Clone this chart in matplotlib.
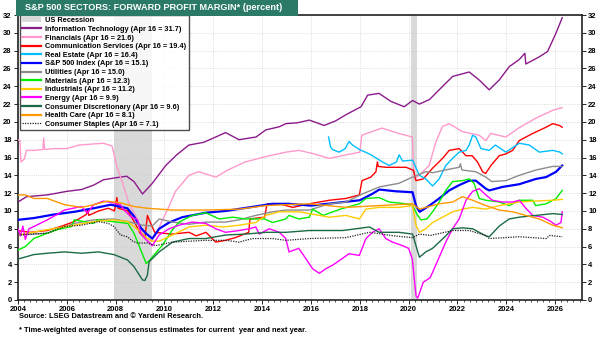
import matplotlib
matplotlib.use("Agg")
import matplotlib.pyplot as plt
from matplotlib.patches import Patch, Rectangle
from matplotlib.lines import Line2D
from matplotlib.ticker import MultipleLocator

plt.rcParams["font.family"] = ["Liberation Sans", "DejaVu Sans"]
plt.rcParams["font.weight"] = "bold"

# (decimal year, forward profit margin %)
IT = [(2004.0, 11.0), (2004.35, 11.6), (2005.2, 11.8), (2006.0, 12.2), (2006.6, 12.4), (2007.1, 12.9),
      (2007.5, 13.5), (2007.95, 13.7), (2008.45, 13.9), (2008.75, 13.3), (2009.1, 11.9), (2009.5, 13.1),
      (2010.05, 15.1), (2010.5, 16.3), (2011.0, 17.4), (2011.6, 17.7), (2012.1, 18.3), (2012.5, 18.8),
      (2013.05, 18.0), (2013.75, 18.3), (2014.15, 19.1), (2014.7, 19.45), (2014.97, 19.8), (2015.45, 19.9),
      (2015.93, 20.2), (2016.54, 19.6), (2017.0, 20.1), (2017.43, 20.8), (2018.05, 21.7), (2018.32, 23.0),
      (2018.79, 23.2), (2019.27, 22.3), (2019.82, 21.7), (2020.16, 22.4), (2020.44, 22.0), (2020.85, 22.5),
      (2021.25, 23.6), (2021.8, 25.1), (2022.48, 25.6), (2022.89, 24.7), (2023.3, 23.6), (2023.71, 24.7),
      (2024.12, 26.2), (2024.53, 27.0), (2024.76, 27.7), (2024.8, 26.5), (2025.35, 27.3), (2025.69, 27.9),
      (2026.04, 30.0), (2026.29, 31.7)]
FINANCIALS = [(2004.0, 18.0), (2004.08, 17.9), (2004.12, 15.5), (2004.25, 15.8), (2004.35, 16.8), (2004.7, 16.8),
              (2005.02, 16.9), (2005.05, 18.2), (2005.09, 16.9), (2005.5, 17.0), (2006.0, 17.0), (2006.5, 17.4),
              (2007.0, 17.5), (2007.5, 17.6), (2007.85, 17.3), (2008.05, 15.0), (2008.3, 13.0), (2008.55, 10.8),
              (2008.85, 9.3), (2009.0, 8.2), (2009.2, 7.0), (2009.45, 6.6), (2009.7, 7.5), (2009.85, 8.6),
              (2010.2, 10.6), (2010.45, 12.2), (2011.0, 14.0), (2011.4, 14.4), (2012.1, 13.8), (2012.6, 14.6),
              (2013.3, 15.5), (2014.15, 16.1), (2014.97, 16.6), (2015.5, 16.8), (2016.07, 16.45), (2016.75, 15.9),
              (2017.45, 16.3), (2018.0, 16.6), (2018.08, 18.5), (2018.9, 19.3), (2019.6, 18.7), (2020.15, 18.3),
              (2020.22, 13.6), (2020.43, 14.0), (2020.84, 15.1), (2021.12, 17.8), (2021.39, 19.5), (2021.66, 19.8),
              (2022.2, 18.9), (2022.89, 18.5), (2023.16, 17.9), (2023.36, 18.7), (2023.98, 18.3), (2024.5, 19.3),
              (2025.2, 20.4), (2025.9, 21.3), (2026.29, 21.6)]
COMM = [(2004.0, 7.8), (2004.5, 7.6), (2005.2, 7.8), (2005.8, 8.3), (2006.3, 8.8), (2006.8, 9.6), (2006.85, 10.2),
        (2006.9, 9.5), (2007.3, 10.0), (2007.7, 10.3), (2007.95, 10.0), (2008.05, 11.5), (2008.1, 10.3),
        (2008.5, 10.0), (2008.8, 8.6), (2009.0, 7.5), (2009.2, 7.0), (2009.3, 9.5), (2009.45, 8.5), (2009.6, 7.6),
        (2010.3, 7.4), (2011.0, 7.6), (2011.3, 7.2), (2011.7, 7.6), (2012.1, 6.5), (2012.5, 6.7), (2012.9, 7.0),
        (2013.45, 7.6), (2013.5, 9.1), (2014.1, 9.3), (2014.2, 10.8), (2014.7, 10.8), (2015.25, 10.4),
        (2015.93, 10.8), (2016.75, 11.2), (2017.43, 11.4), (2017.98, 11.8), (2018.09, 13.4), (2018.45, 13.8),
        (2018.66, 14.4), (2018.72, 15.5), (2018.75, 15.0), (2019.07, 14.9), (2019.9, 14.9), (2020.2, 14.55),
        (2020.3, 13.4), (2020.6, 13.6), (2020.98, 14.8), (2021.39, 15.9), (2021.66, 16.8), (2022.07, 17.0),
        (2022.35, 16.2), (2022.6, 16.2), (2022.82, 15.5), (2023.03, 14.4), (2023.15, 14.2), (2023.37, 15.1),
        (2023.71, 16.2), (2023.98, 16.4), (2024.26, 16.8), (2024.53, 17.9), (2025.08, 18.7), (2025.63, 19.4),
        (2025.9, 19.8), (2026.17, 19.6), (2026.29, 19.4)]
REAL_ESTATE = [(2016.72, 18.3), (2016.8, 17.2), (2016.88, 16.9), (2017.15, 16.6), (2017.4, 17.0), (2017.56, 17.8),
               (2017.7, 17.4), (2017.98, 16.9), (2018.39, 16.4), (2018.93, 15.5), (2019.2, 15.1), (2019.5, 15.5),
               (2019.61, 16.3), (2019.75, 15.6), (2020.16, 15.7), (2020.44, 14.0), (2020.7, 13.6), (2020.98, 12.8),
               (2021.25, 13.6), (2021.52, 15.1), (2021.8, 15.9), (2022.07, 16.6), (2022.35, 16.8), (2022.48, 17.4),
               (2022.62, 18.5), (2022.75, 18.3), (2022.96, 17.0), (2023.3, 16.8), (2023.55, 17.4), (2023.98, 16.6),
               (2024.53, 17.6), (2024.94, 17.4), (2025.35, 16.6), (2025.9, 16.8), (2026.2, 16.6), (2026.29, 16.4)]
SP500 = [(2004.0, 9.0), (2004.65, 9.2), (2005.47, 9.6), (2006.3, 9.9), (2007.1, 10.3), (2007.8, 10.7),
         (2008.48, 10.3), (2008.75, 9.4), (2009.03, 8.1), (2009.23, 7.5), (2009.5, 6.9), (2009.78, 8.0),
         (2010.19, 8.7), (2010.73, 9.3), (2011.69, 9.8), (2012.51, 10.0), (2013.47, 10.4), (2014.42, 10.8),
         (2015.1, 10.8), (2016.0, 10.6), (2017.0, 10.9), (2018.0, 11.2), (2018.5, 11.9), (2018.8, 12.4),
         (2019.5, 12.2), (2020.16, 12.1), (2020.3, 10.6), (2020.45, 9.9), (2020.85, 10.6), (2021.25, 11.4),
         (2021.66, 12.3), (2022.07, 12.9), (2022.48, 13.4), (2022.75, 13.4), (2023.16, 12.5), (2023.3, 12.3),
         (2023.85, 12.7), (2024.53, 13.0), (2025.22, 13.6), (2025.63, 13.8), (2026.04, 14.4), (2026.29, 15.1)]
UTILITIES = [(2004.0, 7.3), (2005.2, 7.5), (2006.3, 8.6), (2007.1, 9.0), (2007.9, 9.1), (2008.5, 8.8),
             (2009.1, 8.4), (2009.5, 8.3), (2009.78, 9.1), (2010.33, 8.75), (2011.0, 8.5), (2011.7, 8.75),
             (2012.5, 8.75), (2013.06, 9.0), (2013.74, 9.5), (2014.42, 9.9), (2014.97, 10.1), (2015.93, 10.1),
             (2016.75, 10.8), (2017.43, 11.0), (2018.1, 11.9), (2018.8, 12.7), (2019.6, 13.1), (2020.16, 13.8),
             (2020.7, 14.4), (2021.0, 14.3), (2021.5, 14.6), (2022.07, 14.9), (2022.12, 15.3), (2022.18, 14.6),
             (2022.75, 14.4), (2023.16, 13.8), (2023.4, 13.3), (2023.98, 13.4), (2024.53, 14.0), (2025.22, 14.6),
             (2025.9, 15.0), (2026.29, 15.0)]
MATERIALS = [(2004.0, 5.6), (2004.3, 6.0), (2004.65, 6.9), (2005.2, 7.5), (2005.6, 7.9), (2006.2, 8.25),
             (2006.3, 9.0), (2007.1, 8.6), (2007.25, 9.0), (2008.5, 8.6), (2008.75, 7.5), (2009.03, 5.6),
             (2009.25, 4.1), (2009.37, 4.4), (2009.55, 5.0), (2009.9, 6.1), (2010.33, 7.9), (2010.6, 8.75),
             (2011.14, 9.5), (2011.69, 9.8), (2012.24, 9.1), (2012.8, 9.3), (2013.3, 9.1), (2014.1, 9.1),
             (2014.42, 8.7), (2014.97, 9.1), (2015.1, 9.5), (2015.5, 9.1), (2015.93, 9.3), (2016.07, 10.2),
             (2016.5, 9.5), (2017.2, 10.2), (2017.98, 10.8), (2018.25, 11.4), (2018.79, 11.5), (2019.2, 11.0),
             (2019.9, 10.8), (2020.16, 10.6), (2020.37, 9.5), (2020.5, 9.0), (2020.75, 9.1), (2020.98, 9.9),
             (2021.25, 11.0), (2021.52, 12.3), (2021.8, 13.3), (2022.2, 13.4), (2022.48, 13.6), (2022.68, 13.1),
             (2022.89, 11.4), (2023.16, 11.2), (2023.71, 11.0), (2024.12, 10.6), (2024.53, 11.2), (2025.08, 11.2),
             (2025.2, 10.6), (2025.63, 10.8), (2026.04, 11.4), (2026.29, 12.3)]
INDUSTRIALS = [(2004.0, 7.3), (2005.2, 7.9), (2006.3, 8.4), (2007.1, 8.8), (2007.9, 9.0), (2008.5, 8.8),
               (2008.75, 8.25), (2009.0, 7.7), (2009.25, 7.0), (2009.5, 6.6), (2009.78, 6.6), (2010.33, 7.3),
               (2011.0, 8.2), (2011.69, 8.4), (2012.4, 8.2), (2013.06, 8.4), (2013.74, 8.7), (2014.15, 9.5),
               (2014.7, 9.9), (2015.5, 9.9), (2015.93, 9.7), (2016.75, 9.3), (2017.43, 9.5), (2017.98, 9.1),
               (2018.25, 10.2), (2018.79, 10.4), (2019.6, 10.4), (2020.16, 10.6), (2020.3, 8.4), (2020.44, 7.6),
               (2020.7, 8.0), (2020.98, 8.7), (2021.39, 9.3), (2021.8, 9.9), (2022.2, 10.2), (2022.62, 10.4),
               (2023.16, 10.2), (2023.71, 10.6), (2024.12, 10.8), (2024.53, 11.0), (2025.08, 11.1), (2025.9, 11.2),
               (2026.29, 11.3)]
ENERGY = [(2004.0, 8.0), (2004.1, 7.2), (2004.2, 8.3), (2004.3, 6.8), (2004.45, 8.0), (2004.65, 8.25),
          (2005.2, 9.0), (2005.6, 9.6), (2005.9, 10.1), (2006.6, 10.5), (2006.84, 9.75), (2007.1, 10.7),
          (2007.5, 11.1), (2007.93, 10.9), (2008.2, 10.7), (2008.35, 10.1), (2008.6, 9.4), (2008.9, 9.0),
          (2009.03, 7.5), (2009.2, 6.9), (2009.5, 6.1), (2009.78, 7.3), (2010.19, 8.0), (2010.6, 8.4),
          (2011.14, 8.75), (2011.69, 8.6), (2012.1, 8.0), (2012.5, 7.6), (2013.06, 7.8), (2013.47, 8.0),
          (2013.74, 8.2), (2013.88, 7.4), (2014.29, 8.0), (2014.7, 7.6), (2014.97, 6.9), (2015.1, 5.4),
          (2015.5, 5.8), (2015.8, 4.6), (2016.07, 3.5), (2016.34, 3.0), (2016.6, 3.5), (2016.88, 3.9),
          (2017.15, 4.4), (2017.56, 5.2), (2017.98, 5.0), (2018.25, 6.9), (2018.52, 7.6), (2018.79, 8.0),
          (2019.06, 6.9), (2019.34, 6.5), (2019.75, 6.1), (2020.0, 5.8), (2020.15, 4.6), (2020.3, 0.5),
          (2020.37, 0.2), (2020.6, 2.0), (2020.88, 2.5), (2020.98, 3.1), (2021.25, 4.8), (2021.52, 6.5),
          (2021.8, 8.0), (2022.07, 9.1), (2022.35, 11.2), (2022.62, 12.2), (2022.89, 12.5), (2023.16, 11.8),
          (2023.43, 11.2), (2023.84, 11.0), (2024.26, 11.0), (2024.53, 11.2), (2024.8, 10.3), (2025.08, 9.5),
          (2025.49, 9.3), (2025.77, 8.9), (2026.04, 8.4), (2026.24, 8.7), (2026.29, 9.9)]
CONS_DISC = [(2004.0, 4.6), (2004.65, 5.1), (2005.2, 5.25), (2005.9, 5.4), (2006.6, 5.25), (2007.3, 5.4),
             (2007.93, 5.1), (2008.48, 4.5), (2008.75, 3.75), (2009.1, 2.25), (2009.2, 2.2), (2009.3, 2.8),
             (2009.37, 4.3), (2009.78, 5.4), (2010.33, 6.5), (2011.0, 6.9), (2011.69, 6.9), (2012.51, 7.3),
             (2013.33, 7.4), (2014.15, 7.6), (2014.97, 7.6), (2015.93, 7.8), (2017.3, 7.8), (2018.39, 8.2),
             (2018.79, 7.6), (2019.6, 7.6), (2020.16, 7.4), (2020.3, 6.1), (2020.44, 4.8), (2020.7, 5.4),
             (2020.98, 5.8), (2021.25, 6.5), (2021.52, 7.2), (2021.8, 8.0), (2022.2, 8.1), (2022.62, 8.0),
             (2023.16, 7.2), (2023.3, 7.1), (2023.71, 8.3), (2024.12, 9.1), (2024.53, 9.3), (2025.22, 9.5),
             (2025.9, 9.7), (2026.29, 9.6)]
HEALTH = [(2004.0, 11.8), (2004.3, 11.8), (2004.65, 11.4), (2005.2, 11.4), (2005.9, 10.7), (2006.6, 10.4),
          (2007.1, 10.7), (2007.65, 11.1), (2008.2, 10.9), (2008.75, 10.5), (2009.3, 10.3), (2010.33, 10.1),
          (2011.69, 10.1), (2013.06, 10.2), (2014.15, 10.6), (2014.97, 10.7), (2015.93, 10.8), (2017.43, 10.4),
          (2018.79, 10.6), (2020.16, 10.8), (2020.44, 10.2), (2020.85, 10.5), (2021.25, 10.8), (2021.8, 11.0),
          (2022.2, 11.6), (2022.62, 11.2), (2023.16, 10.6), (2023.71, 10.1), (2024.26, 9.9), (2024.8, 9.5),
          (2025.35, 9.1), (2025.9, 8.4), (2026.17, 8.2), (2026.29, 8.1)]
STAPLES = [(2004.0, 7.3), (2005.2, 7.5), (2005.9, 8.25), (2006.6, 8.4), (2007.3, 8.8), (2007.7, 8.6),
           (2007.93, 8.25), (2008.2, 7.3), (2008.48, 7.1), (2008.7, 6.6), (2008.9, 6.4), (2009.3, 6.4),
           (2009.64, 6.1), (2010.33, 6.5), (2011.69, 6.7), (2012.51, 6.7), (2013.06, 6.5), (2013.6, 6.9),
           (2014.42, 6.9), (2014.97, 6.7), (2015.93, 6.9), (2017.43, 7.0), (2018.39, 7.6), (2019.4, 7.2),
           (2020.16, 7.0), (2020.44, 7.4), (2020.9, 7.25), (2021.8, 7.8), (2022.48, 7.8), (2023.16, 7.25),
           (2023.3, 6.9), (2024.53, 7.1), (2025.63, 6.9), (2025.77, 7.25), (2026.29, 7.1)]

RECESSIONS = [(2007.92, 2009.5), (2020.08, 2020.33)]
X_TICKS = list(range(2004, 2027, 2))
Y_TICKS = list(range(0, 33, 2))

# label, data, colour, width, style
SERIES = [
    ("Information Technology (Apr 16 = 31.7)", IT, "#8b1a8b", 1.0, "-"),
    ("Financials (Apr 16 = 21.6)", FINANCIALS, "#ff99cc", 1.0, "-"),
    ("Communication Services (Apr 16 = 19.4)", COMM, "#ff0000", 1.0, "-"),
    ("Real Estate (Apr 16 = 16.4)", REAL_ESTATE, "#00bfff", 1.0, "-"),
    ("S&P 500 Index (Apr 16 = 15.1)", SP500, "#0000ff", 1.6, "-"),
    ("Utilities (Apr 16 = 15.0)", UTILITIES, "#8c8c8c", 1.0, "-"),
    ("Materials (Apr 16 = 12.3)", MATERIALS, "#00ee00", 1.0, "-"),
    ("Industrials (Apr 16 = 11.2)", INDUSTRIALS, "#ffcc00", 1.0, "-"),
    ("Energy (Apr 16 = 9.9)", ENERGY, "#ff00ff", 1.0, "-"),
    ("Consumer Discretionary (Apr 16 = 9.6)", CONS_DISC, "#1b6b45", 1.0, "-"),
    ("Health Care (Apr 16 = 8.1)", HEALTH, "#ff9900", 1.0, "-"),
    ("Consumer Staples (Apr 16 = 7.1)", STAPLES, "#222222", 0.9, (0, (1, 1))),
]

fig = plt.figure(figsize=(6.0, 3.38), dpi=100)
ax = fig.add_axes([18 / 600, 1 - 300 / 338, 564 / 600, 285 / 338])

for a, b in RECESSIONS:
    ax.axvspan(a, b, color="#d9d9d9", lw=0, zorder=0)

handles = [Patch(facecolor="#d9d9d9", edgecolor="none", label="US Recession")]
for label, data, color, lw, ls in SERIES:
    xs = [p[0] for p in data]
    ys = [p[1] for p in data]
    ax.plot(xs, ys, color=color, lw=lw, ls=ls, zorder=3)
    handles.append(Line2D([], [], color=color, lw=1.6 if ls == "-" else 0.9, ls=ls, label=label))

ax.set_xlim(2004.0, 2027.1)
ax.set_ylim(0, 32)
ax.set_xticks(X_TICKS)
ax.set_yticks(Y_TICKS)
ax.xaxis.set_minor_locator(MultipleLocator(0.25))
ax.grid(True, which="major", color="#d0d0d0", ls=":", lw=0.6, zorder=1)
ax.tick_params(axis="both", which="major", labelsize=5.5, length=3, width=0.6, pad=1.5)
ax.tick_params(axis="x", which="minor", length=1.5, width=0.5)
ax.tick_params(axis="y", right=True, labelright=True)
for s in ax.spines.values():
    s.set_linewidth(1.2)
    s.set_color("#222222")

leg = ax.legend(handles=handles, loc="upper left", bbox_to_anchor=(0.003, 1.0), borderaxespad=0,
                fontsize=5.3, frameon=True, fancybox=False, handlelength=2.6, handletextpad=0.6,
                labelspacing=0.2, borderpad=0.3)
leg.get_frame().set_edgecolor("#222222")
leg.get_frame().set_linewidth(1.0)
leg.set_zorder(5)

fig.patches.append(Rectangle((16 / 600, 1 - 16 / 338), 282 / 600, 16 / 338, transform=fig.transFigure,
                             facecolor="#2b7a68", edgecolor="none", zorder=10))
fig.text(25 / 600, 1 - 8 / 338, "S&P 500 SECTORS: FORWARD PROFIT MARGIN* (percent)", color="white",
         fontsize=6.6, fontweight="bold", va="center", ha="left", zorder=11)

fig.text(19 / 600, 1 - 316 / 338, "Source: LSEG Datastream and \u00a9 Yardeni Research.",
         fontsize=5.4, fontweight="bold", va="center")
fig.text(19 / 600, 1 - 330 / 338,
         "* Time-weighted average of consensus estimates for current  year and next year.",
         fontsize=5.4, fontweight="bold", va="center")

fig.savefig("out.png", dpi=100)
